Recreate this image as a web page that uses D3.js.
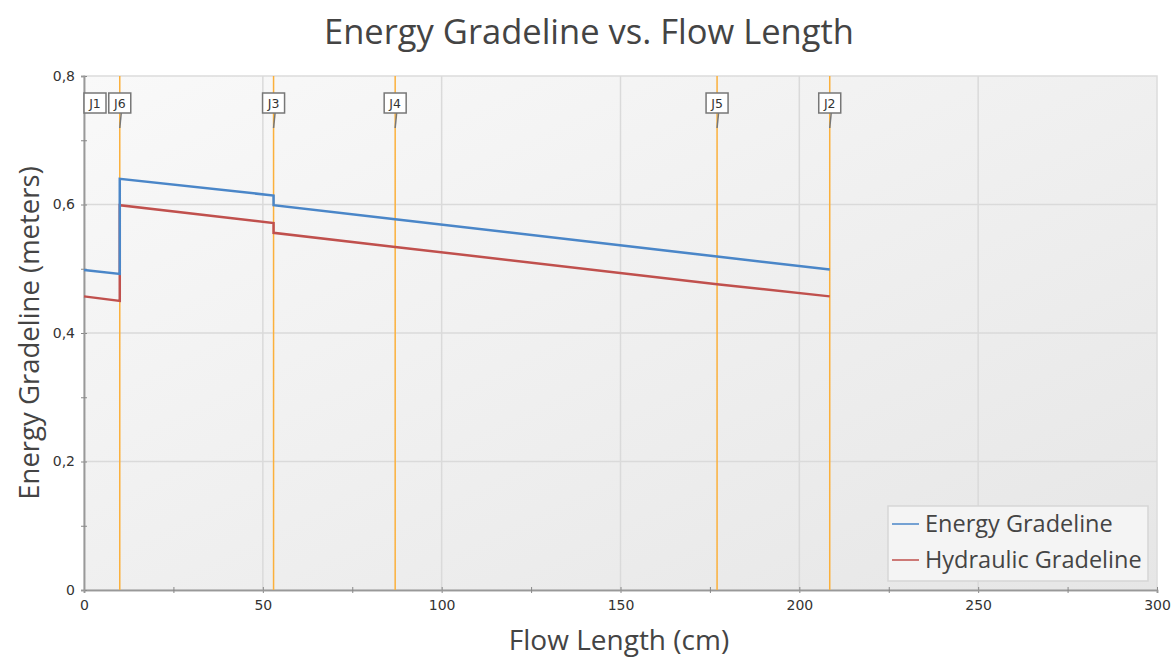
<!DOCTYPE html>
<html>
<head>
<meta charset="utf-8">
<script src="https://cdn.jsdelivr.net/npm/d3@7"></script>
<style>
  body { margin: 0; background: #fff; }
  text { font-family: "Open Sans", "Noto Sans", sans-serif; }
  .tick text { font-family: "DejaVu Sans", sans-serif; font-size: 14px; fill: #333; }
</style>
</head>
<body>
<svg id="chart" width="1173" height="659"></svg>
<script>
// junctions along the run (cm)
const junctionNames = ["J1", "J6", "J3", "J4", "J5", "J2"];
const junctionLengths = [0, 10, 53, 87, 177, 208.5];

// profile points (cm) and gradelines (m)
const flowLength = [0, 10, 10, 53, 53, 87, 177, 208.5];
const energyGrade = [0.498, 0.492, 0.640, 0.614, 0.599, 0.577, 0.519, 0.499];
const hydraulicGrade = [0.457, 0.450, 0.599, 0.571, 0.556, 0.534, 0.476, 0.457];

const xTicks = [0, 50, 100, 150, 200, 250, 300];
const yTicks = [0, 0.2, 0.4, 0.6, 0.8];

const margin = { top: 76, right: 16, bottom: 69, left: 84 },
    width = 1173 - margin.left - margin.right,
    height = 659 - margin.top - margin.bottom;

const svg = d3.select("#chart");

const defs = svg.append("defs");
const grad = defs.append("linearGradient")
    .attr("id", "bg")
    .attr("x1", "0").attr("y1", "0").attr("x2", "1").attr("y2", "1");
grad.append("stop").attr("offset", "0%").attr("stop-color", "#f9f9f9");
grad.append("stop").attr("offset", "100%").attr("stop-color", "#e6e6e6");

const g = svg.append("g")
    .attr("transform", `translate(${margin.left},${margin.top})`);

const x = d3.scaleLinear().domain([0, 300]).range([0, width]);
const y = d3.scaleLinear().domain([0, 0.8]).range([height, 0]);

g.append("rect")
    .attr("width", width)
    .attr("height", height)
    .attr("fill", "url(#bg)")
    .attr("stroke", "#dcdcdc")
    .attr("stroke-width", 1.5);

// grid
g.selectAll(".vgrid")
    .data(xTicks.slice(1, -1))
    .enter().append("line")
    .attr("x1", d => x(d)).attr("x2", d => x(d))
    .attr("y1", 0).attr("y2", height)
    .attr("stroke", "#dadada").attr("stroke-width", 1.5);

g.selectAll(".hgrid")
    .data(yTicks.slice(1, -1))
    .enter().append("line")
    .attr("x1", 0).attr("x2", width)
    .attr("y1", d => y(d)).attr("y2", d => y(d))
    .attr("stroke", "#dadada").attr("stroke-width", 1.5);

// axes
g.append("g")
    .attr("transform", `translate(0,${height})`)
    .call(d3.axisBottom(x).tickValues(xTicks).tickSize(3).tickPadding(7));
g.append("g")
    .attr("transform", `translate(0,${height})`)
    .call(d3.axisBottom(x).tickValues(d3.range(25, 300, 50)).tickSize(3).tickFormat(""));

g.append("g")
    .call(d3.axisLeft(y).tickValues(yTicks).tickSize(3).tickPadding(6)
        .tickFormat(d => d === 0 ? "0" : d3.format(".1f")(d).replace(".", ",")));
g.append("g")
    .call(d3.axisLeft(y).tickValues([0.1, 0.3, 0.5, 0.7]).tickSize(3).tickFormat(""));

g.selectAll(".domain").attr("stroke", "#999").attr("stroke-width", 1.5);
g.selectAll(".tick line").attr("stroke", "#888").each(function() {
    const t = d3.select(this);
    if (t.attr("x2")) t.attr("x1", 3);
    else t.attr("y1", -3);
});

// junction lines
g.selectAll(".junction")
    .data(junctionLengths.slice(1))
    .enter().append("line")
    .attr("x1", d => x(d)).attr("x2", d => x(d))
    .attr("y1", 0).attr("y2", height)
    .attr("stroke", "#fbb03b").attr("stroke-width", 1.5);

// gradelines
const line = d3.line()
    .x(d => x(d[0]))
    .y(d => y(d[1]));

g.append("path")
    .datum(flowLength.map((d, i) => [d, hydraulicGrade[i]]))
    .attr("fill", "none")
    .attr("stroke", "#c0504d")
    .attr("stroke-width", 2.5)
    .attr("d", line);

g.append("path")
    .datum(flowLength.map((d, i) => [d, energyGrade[i]]))
    .attr("fill", "none")
    .attr("stroke", "#4a86c8")
    .attr("stroke-width", 2.5)
    .attr("d", line);

// junction labels
const labels = g.selectAll(".jlabel")
    .data(junctionNames.map((n, i) => ({ name: n, len: junctionLengths[i] })))
    .enter().append("g")
    .attr("transform", d => `translate(${Math.max(x(d.len), 11)},0)`);

labels.filter(d => d.len > 0).append("line")
    .attr("x1", 1.5).attr("y1", 37)
    .attr("x2", 0).attr("y2", 52)
    .attr("stroke", "#777").attr("stroke-width", 1.5);

labels.append("rect")
    .attr("x", -11).attr("y", 17)
    .attr("width", 22).attr("height", 20)
    .attr("fill", "#fff")
    .attr("stroke", "#777").attr("stroke-width", 1.5);

labels.append("text")
    .attr("x", 0).attr("y", 32)
    .attr("text-anchor", "middle")
    .style("font-family", "DejaVu Sans, sans-serif")
    .style("font-size", "12.5px")
    .attr("fill", "#333")
    .text(d => d.name);

// legend
const legend = svg.append("g").attr("transform", "translate(888,506)");
legend.append("rect")
    .attr("width", 260).attr("height", 75)
    .attr("fill", "#f4f4f4")
    .attr("stroke", "#d6d6d6").attr("stroke-width", 1.5);

const legendItems = [
    { label: "Energy Gradeline", color: "#4a86c8" },
    { label: "Hydraulic Gradeline", color: "#c0504d" }
];
legendItems.forEach((item, i) => {
    const row = legend.append("g").attr("transform", `translate(0,${18 + i * 36})`);
    row.append("line")
        .attr("x1", 4).attr("x2", 31)
        .attr("stroke", item.color).attr("stroke-width", 1.5);
    row.append("text")
        .attr("x", 37).attr("y", 8)
        .style("font-size", "23.5px")
        .attr("fill", "#444")
        .text(item.label);
});

// titles
svg.append("text")
    .attr("x", 589).attr("y", 44)
    .attr("text-anchor", "middle")
    .style("font-size", "34.5px")
    .attr("fill", "#444")
    .text("Energy Gradeline vs. Flow Length");

svg.append("text")
    .attr("x", 619).attr("y", 650)
    .attr("text-anchor", "middle")
    .style("font-size", "28px")
    .attr("fill", "#444")
    .text("Flow Length (cm)");

svg.append("text")
    .attr("transform", "rotate(-90)")
    .attr("x", -(margin.top + height / 2)).attr("y", 39)
    .attr("text-anchor", "middle")
    .style("font-size", "27.5px")
    .attr("fill", "#444")
    .text("Energy Gradeline (meters)");
</script>
</body>
</html>
